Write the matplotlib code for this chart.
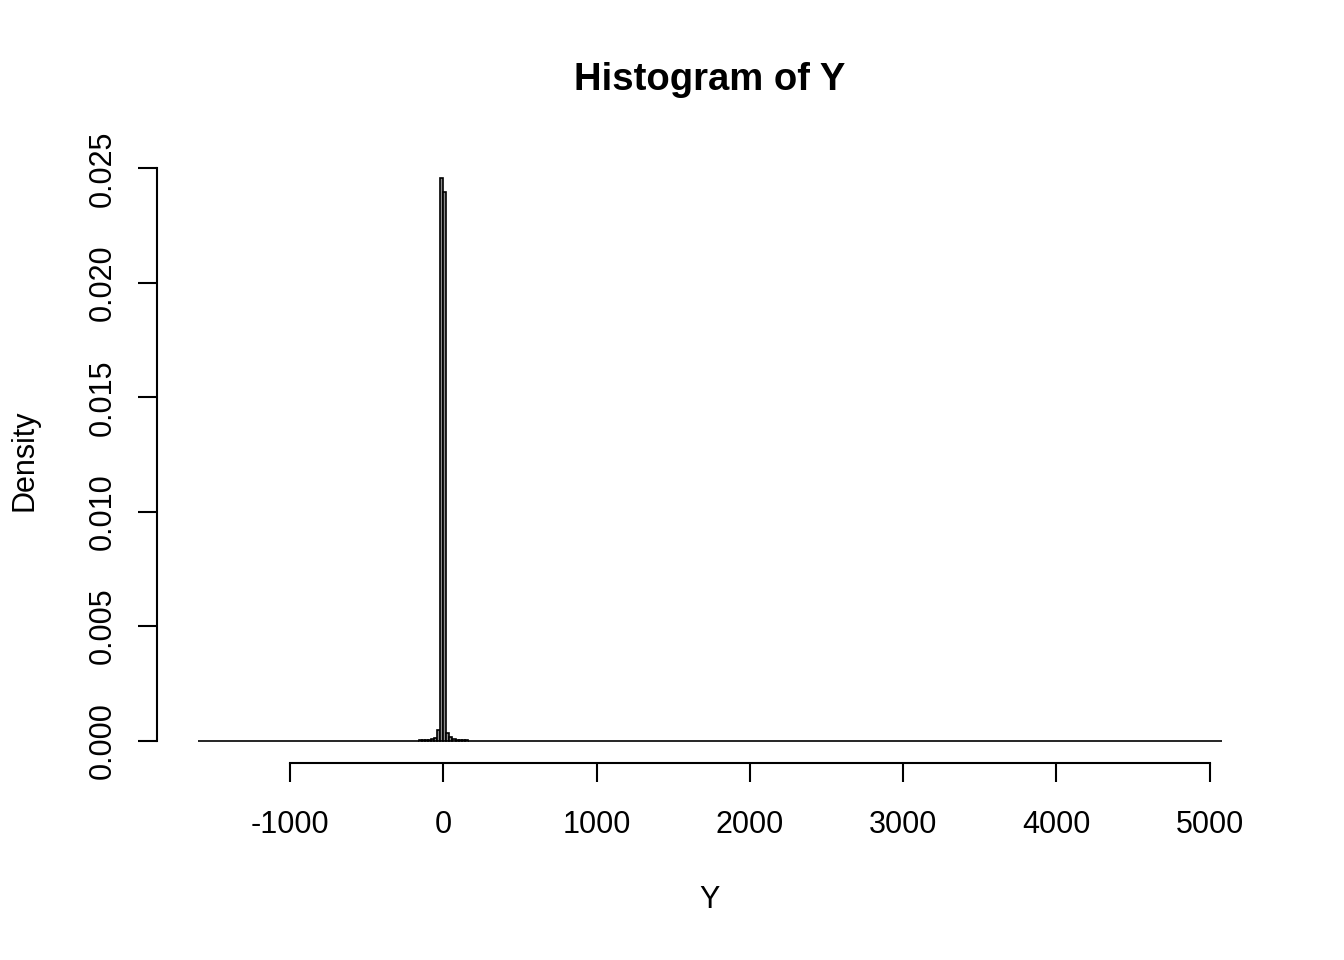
import numpy as np
import matplotlib
matplotlib.use('Agg')
import matplotlib.pyplot as plt

plt.rcParams['font.family'] = ['Liberation Sans', 'DejaVu Sans']

# bin layout of the histogram (width 20, from -1600 to 5080)
bin_start = -1600
bin_end = 5080
bin_width = 20

# densities for the non-empty bins (left edge -> density)
bin_left_edges = [-160, -140, -120, -100, -80, -60, -40, -20, 0, 20, 40, 60, 80, 100, 120, 140]
bin_densities = [0.00001, 0.00001, 0.00002, 0.00003, 0.00006, 0.00010, 0.00044, 0.02456,
                 0.02395, 0.00035, 0.00015, 0.00007, 0.00004, 0.00002, 0.00001, 0.00001]

x_ticks = [-1000, 0, 1000, 2000, 3000, 4000, 5000]
y_ticks = [0.000, 0.005, 0.010, 0.015, 0.020, 0.025]

lefts = np.arange(bin_start, bin_end, bin_width)
dens = np.zeros(len(lefts))
for e, d in zip(bin_left_edges, bin_densities):
    dens[np.searchsorted(lefts, e)] = d

fig = plt.figure(figsize=(13.44, 9.6), dpi=100)
ax = fig.add_axes([157 / 1344, 1 - 763 / 960, (1263 - 157) / 1344, (763 - 156) / 960])

ax.bar(lefts, dens, width=bin_width, align='edge', color='#8c8c8c',
       edgecolor='black', linewidth=1.2)

span = bin_end - bin_start
ax.set_xlim(bin_start - 0.04 * span, bin_end + 0.04 * span)
ymax = max(bin_densities)
ax.set_ylim(-0.04 * ymax, ymax * 1.04)

for s in ['top', 'right']:
    ax.spines[s].set_visible(False)
ax.spines['bottom'].set_bounds(x_ticks[0], x_ticks[-1])
ax.spines['left'].set_bounds(y_ticks[0], y_ticks[-1])
ax.spines['bottom'].set_linewidth(1.5)
ax.spines['left'].set_linewidth(1.5)

ax.set_xticks(x_ticks)
ax.set_xticklabels([str(t) for t in x_ticks])
ax.set_yticks(y_ticks)
ax.set_yticklabels(['%.3f' % t for t in y_ticks], rotation=90, va='center')
ax.tick_params(axis='both', length=14, width=1.5, labelsize=22)
ax.tick_params(axis='x', pad=20)
ax.tick_params(axis='y', pad=14)

fig.text(710 / 1344, 1 - 80 / 960, 'Histogram of Y', ha='center', va='center',
         fontsize=27.5, fontweight='bold')
fig.text(710 / 1344, 1 - 900 / 960, 'Y', ha='center', va='center', fontsize=22)
fig.text(25 / 1344, 1 - 460 / 960, 'Density', ha='center', va='center',
         fontsize=22, rotation=90)

fig.savefig('out.png', dpi=100)
